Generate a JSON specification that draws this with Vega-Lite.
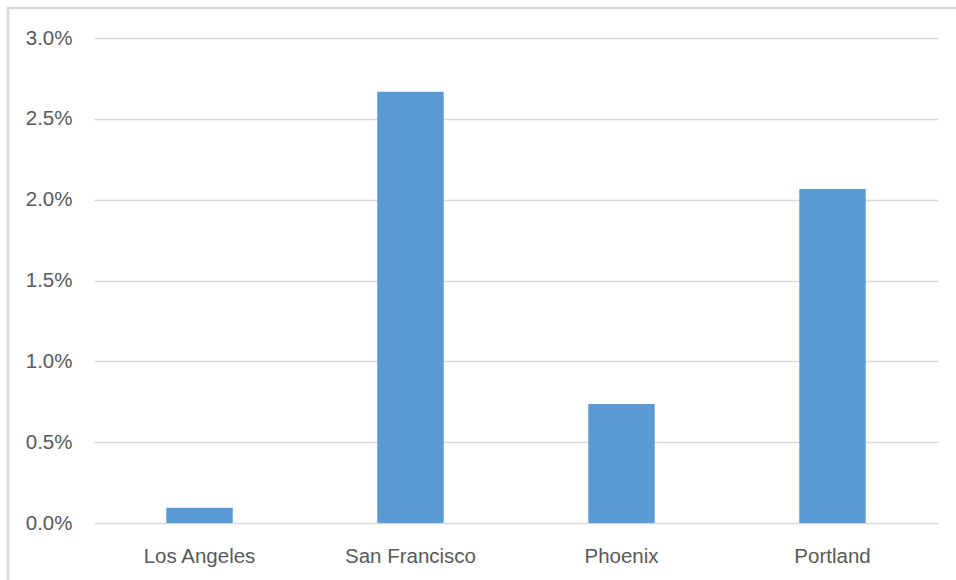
{
  "$schema": "https://vega.github.io/schema/vega-lite/v6.json",
  "autosize": {"type": "none"},
  "padding": {"left": 8, "top": 8, "right": 0, "bottom": 0},
  "width": 960,
  "height": 580,
  "background": "white",
  "data": {
    "values": [
      {"city": "Los Angeles", "share": 0.00095},
      {"city": "San Francisco", "share": 0.02667},
      {"city": "Phoenix", "share": 0.00736},
      {"city": "Portland", "share": 0.02066}
    ]
  },
  "mark": {"type": "bar", "color": "#5B9BD5"},
  "encoding": {
    "x": {
      "field": "city",
      "type": "nominal",
      "sort": null,
      "title": null,
      "scale": {"range": [86, 930], "paddingInner": 0.685, "paddingOuter": 0.3425},
      "axis": {
        "offset": -65,
        "domain": false,
        "ticks": false,
        "tickSize": 0,
        "labelAngle": 0,
        "labelBaseline": "alphabetic",
        "labelPadding": 39,
        "labelFont": "Liberation Sans",
        "labelFontSize": 20.5,
        "labelColor": "#595959",
        "grid": false
      }
    },
    "y": {
      "field": "share",
      "type": "quantitative",
      "title": null,
      "scale": {"domain": [0, 0.03], "nice": false, "range": [515, 30]},
      "axis": {
        "offset": -86,
        "domain": false,
        "ticks": false,
        "tickSize": 0,
        "values": [0, 0.005, 0.01, 0.015, 0.02, 0.025, 0.03],
        "format": ".1%",
        "labelPadding": 22,
        "labelFont": "Liberation Sans",
        "labelFontSize": 20.5,
        "labelColor": "#595959",
        "grid": true,
        "gridColor": "#d9d9d9",
        "gridWidth": 1.5
      }
    }
  },
  "config": {
    "view": {"stroke": "#d9d9d9", "strokeWidth": 2.5}
  }
}
